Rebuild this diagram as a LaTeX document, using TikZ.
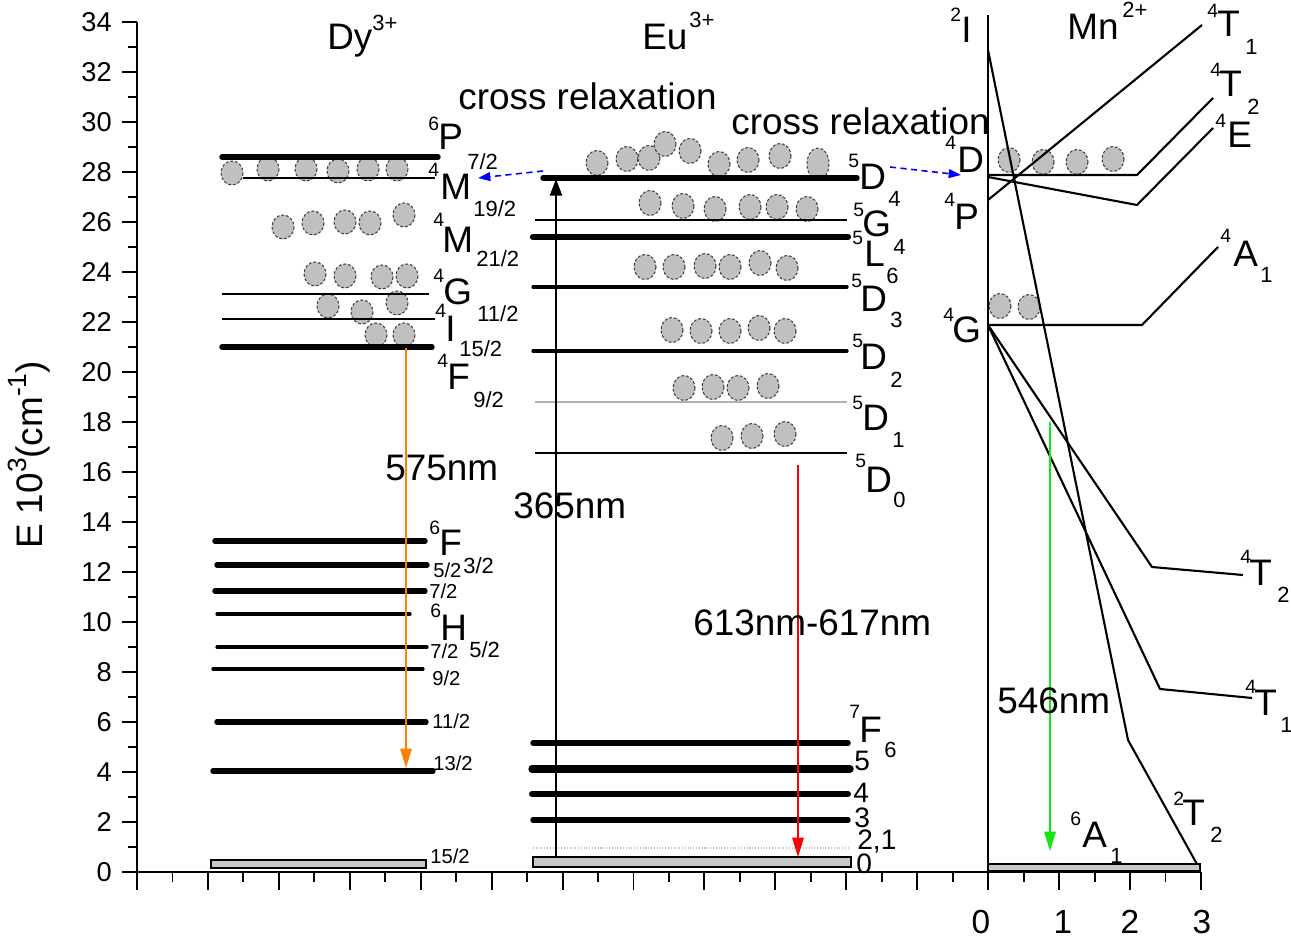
\documentclass[tikz,border=0pt]{standalone}
\usepackage{fontspec}
\setmainfont{Liberation Sans}
\usetikzlibrary{arrows.meta}
\definecolor{dyorange}{RGB}{255,128,0}
\definecolor{eured}{RGB}{255,0,0}
\definecolor{mngreen}{RGB}{20,230,20}
\definecolor{crblue}{RGB}{0,0,255}
\definecolor{atomgray}{RGB}{192,192,192}
\definecolor{boxgray}{RGB}{200,200,200}

\begin{document}
\begin{tikzpicture}[x=0.02cm, y=-0.02cm,
  axisln/.style={line width=1.1pt},
  levthick/.style={line width=3.1pt, line cap=round},
  levheavy/.style={line width=3.6pt, line cap=round},
  levmid/.style={line width=1.9pt, line cap=round},
  levthin/.style={line width=0.8pt},
  gbox/.style={fill=boxgray, draw=black, line width=0.6pt},
  atom/.style={fill=atomgray, draw=black!75, line width=0.6pt, dash pattern=on 1.6pt off 1.1pt},
  mnline/.style={line width=1.2pt, line join=round},
  term/.style={font=\fontsize{21}{21}\selectfont, inner sep=0pt, anchor=base west},
  tsup/.style={font=\fontsize{11}{11}\selectfont, inner sep=0pt, anchor=base west},
  tsub/.style={font=\fontsize{12.5}{12.5}\selectfont, inner sep=0pt, anchor=base west},
  jval/.style={font=\fontsize{11.5}{11.5}\selectfont, inner sep=0pt, anchor=base west},
  fnum/.style={font=\fontsize{16}{16}\selectfont, inner sep=0pt, anchor=base west},
  charge/.style={font=\fontsize{12.5}{12.5}\selectfont, inner sep=0pt, anchor=base west},
  ticknum/.style={font=\fontsize{15.5}{15.5}\selectfont, inner sep=0pt, anchor=east},
  xnum/.style={font=\fontsize{19}{19}\selectfont, inner sep=0pt, anchor=base},
  emit/.style={line width=0.9pt, -{Triangle[length=11pt,width=6.5pt]}},
  pump/.style={line width=0.8pt, -{Triangle[length=9.5pt,width=7pt]}},
  crossarr/.style={crblue, line width=0.9pt, dash pattern=on 3.5pt off 2.5pt, -{Triangle[length=7pt,width=5pt]}}]
\fill[white] (0,0) rectangle (1291,949);
\useasboundingbox (0,0) rectangle (1291,949);

% --- Axes ---
\draw[axisln] (137,22) -- (137,872) -- (1201,872);
\draw[axisln] (988,15) -- (988,872);
\foreach \k in {0,...,17} {
  \pgfmathtruncatemacro{\ev}{2*\k}
  \draw[axisln] (122,{872-50*\k}) -- (137,{872-50*\k});
  \node[ticknum] (ytick\k) at (112,{872-50*\k}) {\ev};
}
\foreach \k in {0,...,16}
  \draw[axisln] (128,{847-50*\k}) -- (137,{847-50*\k});
\foreach \k in {0,...,15}
  \draw[axisln] ({137+70.93*\k},872) -- ++(0,18);
\foreach \k in {0,...,14}
  \draw[axisln] ({137+70.93*(\k+0.5)},872) -- ++(0,10);
\node[xnum] (xtick0) at (981,933) {0};
\node[xnum] (xtick1) at (1063,933) {1};
\node[xnum] (xtick2) at (1130,933) {2};
\node[xnum] (xtick3) at (1202,933) {3};
\node[rotate=90, anchor=base, inner sep=0pt, font=\fontsize{21}{21}\selectfont] (ylab) at (42,455)
  {E 10{\fontsize{15}{15}\selectfont\raisebox{9pt}{3}}(cm{\fontsize{15}{15}\selectfont\raisebox{9pt}{-1}})};

% --- Ion names ---
\node[term] (dyName) at (327,50) {Dy};
\node[charge] (dyCharge) at (372,31) {3+};
\node[term] (euName) at (642,50) {Eu};
\node[charge] (euCharge) at (689,28) {3+};
\node[term] (mnName) at (1067,40) {Mn};
\node[charge] (mnCharge) at (1122,18) {2+};

% --- Populated states ---
\foreach \ax/\ay in {232/173,268/169,306/169,338/171,368/169,397/169,
  283/227,313/223,345/222,370/223,404/215,315/274,345/276,382/277,407/276,
  328/306,362/312,397/303,376/335,404/335}
  \draw[atom] (\ax,\ay) ellipse (11 and 12);
\foreach \ax/\ay in {597/163,627/159,649/158,665/144,690/151,719/164,748/160,780/156,
  650/203,683/206,715/209,750/207,777/207,807/209,
  645/267,674/267,705/266,730/267,760/263,787/268,
  672/330,701/331,730/331,759/328,785/331,
  684/388,713/387,738/388,768/386,722/438,752/436,785/434}
  \draw[atom] (\ax,\ay) ellipse (11 and 12.5);
\draw[atom] (818,164) ellipse (11 and 16);
\foreach \ax/\ay in {1009/160,1043/162,1077/162,1113/159,1000/306,1029/307}
  \draw[atom] (\ax,\ay) ellipse (11 and 12.5);

% --- Dy3+ levels ---
\draw[levthick] (222,157) -- (438,157);
\draw[levthin, line width=1pt] (243,178) -- (435,178);
\draw[levthin] (222,294) -- (429,294);
\draw[levthin] (222,319) -- (435,319);
\draw[levthick] (222,347) -- (432,347);
\draw[levthick] (215,541) -- (425,541);
\draw[levthick] (217,565) -- (427,565);
\draw[levthick] (215,591) -- (425,591);
\draw[levmid] (217,614) -- (410,614);
\draw[levmid] (217,647) -- (427,647);
\draw[levmid] (213,669) -- (423,669);
\draw[levthick] (217,722) -- (426,722);
\draw[levthick] (213,771) -- (433,771);
\draw[gbox] (211,860) rectangle (426,868);

% --- Eu3+ levels ---
\draw[levthick] (543,178) -- (857,178);
\draw[levthin] (535,220) -- (847,220);
\draw[levheavy] (533,237) -- (848,237);
\draw[levmid] (533,287) -- (847,287);
\draw[levmid] (533,351) -- (847,351);
\draw[levthin, gray!60, line width=0.6pt] (535,402) -- (847,402);
\draw[levthin] (535,453) -- (847,453);
\draw[levthick] (533,743) -- (848,743);
\draw[levheavy, line width=4.2pt] (532,769) -- (850,769);
\draw[levheavy, line width=3.4pt] (532,794) -- (848,794);
\draw[levthick] (533,820) -- (848,820);
\draw[gray!50, line width=0.6pt, densely dotted] (533,848) -- (848,848);
\draw[gbox] (533,857) rectangle (851,867);

% --- Mn2+ levels ---
\draw[mnline] (988,50) -- (1128,740) -- (1198,866);
\draw[mnline] (988,200) -- (1202,25);
\draw[mnline] (988,175) -- (1137,175) -- (1213,98);
\draw[mnline] (988,177) -- (1137,205) -- (1213,128);
\draw[mnline] (988,325) -- (1142,325) -- (1218,247);
\draw[mnline] (988,325) -- (1152,567) -- (1243,575);
\draw[mnline] (988,325) -- (1160,689) -- (1252,698);
\draw[gbox] (988,864) rectangle (1200,871);

% --- Dy3+ terms ---
\node[tsup] (dyPs) at (428,131) {6};
\node[term] (dyP) at (438,150) {P};
\node[tsub] (dyPj) at (467,170) {7/2};
\node[tsup] (dyMas) at (428,177) {4};
\node[term] (dyMa) at (440,200) {M};
\node[tsub] (dyMaj) at (473,217) {19/2};
\node[tsup] (dyMbs) at (433,227) {4};
\node[term] (dyMb) at (442,253) {M};
\node[tsub] (dyMbj) at (476,267) {21/2};
\node[tsup] (dyGs) at (433,283) {4};
\node[term] (dyG) at (443,305) {G};
\node[tsub] (dyGj) at (477,322) {11/2};
\node[tsup] (dyIs) at (435,318) {4};
\node[term] (dyI) at (445,342) {I};
\node[tsub] (dyIj) at (459,357) {15/2};
\node[tsup] (dyFs) at (437,368) {4};
\node[term] (dyF) at (447,390) {F};
\node[tsub] (dyFj) at (473,407) {9/2};
\node[tsup] (dyFFs) at (429,534) {6};
\node[term] (dyFF) at (439,555) {F};
\node[tsub] (dyFFj) at (463,573) {3/2};
\node[jval] (dyJa) at (433,577) {5/2};
\node[jval] (dyJb) at (429,598) {7/2};
\node[tsup] (dyHs) at (430,617) {6};
\node[term] (dyH) at (440,640) {H};
\node[tsub] (dyHj) at (469,657) {5/2};
\node[jval] (dyJc) at (430,658) {7/2};
\node[jval] (dyJd) at (432,685) {9/2};
\node[jval] (dyJe) at (432,728) {11/2};
\node[jval] (dyJf) at (433,770) {13/2};
\node[jval] (dyJg) at (430,863) {15/2};

% --- Eu3+ terms ---
\node[tsup] (euDds) at (848,168) {5};
\node[term] (euDd) at (859,190) {D};
\node[tsub] (euDdj) at (888,207) {4};
\node[tsup] (euGs) at (853,217) {5};
\node[term] (euG) at (862,237) {G};
\node[tsub] (euGj) at (893,255) {4};
\node[tsup] (euLs) at (852,245) {5};
\node[term] (euL) at (864,267) {L};
\node[tsub] (euLj) at (886,284) {6};
\node[tsup] (euDcs) at (851,288) {5};
\node[term] (euDc) at (860,312) {D};
\node[tsub] (euDcj) at (890,328) {3};
\node[tsup] (euDbs) at (852,348) {5};
\node[term] (euDb) at (860,370) {D};
\node[tsub] (euDbj) at (890,387) {2};
\node[tsup] (euDas) at (852,409) {5};
\node[term] (euDa) at (862,430) {D};
\node[tsub] (euDaj) at (892,447) {1};
\node[tsup] (euDzs) at (855,467) {5};
\node[term] (euDz) at (865,492) {D};
\node[tsub] (euDzj) at (893,507) {0};
\node[tsup] (euFs) at (849,718) {7};
\node[term] (euF) at (859,742) {F};
\node[tsub] (euFj) at (884,757) {6};
\node[fnum] (euJf) at (854,770) {5};
\node[fnum] (euJe) at (853,802) {4};
\node[fnum] (euJd) at (854,827) {3};
\node[fnum] (euJc) at (857,849) {2,1};
\node[fnum] (euJa) at (856,873) {0};

% --- Mn2+ terms ---
\node[tsup] (mnIs) at (950,22) {2};
\node[term] (mnI) at (961,43) {I};
\node[tsup] (mnDs) at (945,150) {4};
\node[term] (mnD) at (957,173) {D};
\node[tsup] (mnPs) at (944,207) {4};
\node[term] (mnP) at (954,230) {P};
\node[tsup] (mnGs) at (943,322) {4};
\node[term] (mnG) at (952,343) {G};
\node[tsup] (mnTas) at (1207,18) {4};
\node[term] (mnTa) at (1217,37) {T};
\node[tsub] (mnTaj) at (1245,55) {1};
\node[tsup] (mnTbs) at (1210,77) {4};
\node[term] (mnTb) at (1219,97) {T};
\node[tsub] (mnTbj) at (1247,115) {2};
\node[tsup] (mnEs) at (1215,128) {4};
\node[term] (mnE) at (1227,148) {E};
\node[tsup] (mnAs) at (1220,243) {4};
\node[term] (mnA) at (1233,267) {A};
\node[tsub] (mnAj) at (1260,283) {1};
\node[tsup] (mnTcs) at (1240,563) {4};
\node[term] (mnTc) at (1249,585) {T};
\node[tsub] (mnTcj) at (1277,602) {2};
\node[tsup] (mnTds) at (1245,693) {4};
\node[term] (mnTd) at (1254,715) {T};
\node[tsub] (mnTdj) at (1280,732) {1};
\node[tsup] (mnTes) at (1173,805) {2};
\node[term] (mnTe) at (1182,825) {T};
\node[tsub] (mnTej) at (1210,842) {2};
\node[tsup] (mnAgs) at (1070,825) {6};
\node[term] (mnAg) at (1082,847) {A};
\node[tsub] (mnAgj) at (1110,863) {1};

% --- Transitions ---
\coordinate (dyTop) at (406,348);
\coordinate (dyLow) at (406,768);
\coordinate (euGnd) at (556,857);
\coordinate (euTop) at (556,179);
\coordinate (euEmit) at (798,465);
\coordinate (euEnd) at (798,857);
\coordinate (mnEmit) at (1050,422);
\coordinate (mnEnd) at (1050,851);
\coordinate (euLeft) at (543,171);
\coordinate (dyRecv) at (478,178);
\coordinate (euRight) at (890,167);
\coordinate (mnRecv) at (961,175);
\draw[emit, dyorange, line width=0.85pt] (dyTop) -- (dyLow);
\draw[pump] (euGnd) -- (euTop);
\draw[emit, eured] (euEmit) -- (euEnd);
\draw[emit, mngreen, line width=1.2pt] (mnEmit) -- (mnEnd);
\draw[crossarr] (euLeft) -- (dyRecv);
\draw[crossarr] (euRight) -- (mnRecv);

% --- Labels ---
\node[term] (crLeft) at (458,110) {cross relaxation};
\node[term] (crRight) at (731,135) {cross relaxation};
\node[term] (wlDy) at (385,480) {575nm};
\node[term] (wlPump) at (513,518) {365nm};
\node[term] (wlEu) at (693,635) {613nm-617nm};
\node[term] (wlMn) at (997,713) {546nm};
\end{tikzpicture}
\end{document}
